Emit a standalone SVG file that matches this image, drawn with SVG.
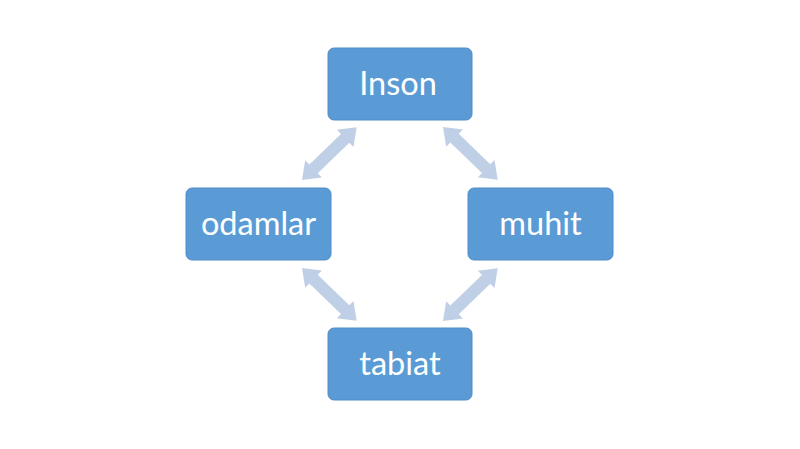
<svg xmlns="http://www.w3.org/2000/svg" xmlns:xlink="http://www.w3.org/1999/xlink" width="800" height="449" viewBox="0 0 800 449">
<style>
.node rect{fill:#5B9BD5;stroke:#4F8CC6;stroke-width:1}
.node text{fill:#FFFFFF;font-family:Lato,"Open Sans",sans-serif;font-size:32.5px;text-anchor:middle}
.arr{fill:#BFCFE5}
</style>
<defs>
<polygon id="dbl" class="arr" points="0,0 16,-12 16,-6 60,-6 60,-12 76,0 60,12 60,6 16,6 16,12"/>
</defs>
<rect width="800" height="449" fill="#FFFFFF"/>
<g id="connectors">
<use xlink:href="#dbl" transform="translate(302,180) rotate(-44)"/>
<use xlink:href="#dbl" transform="translate(443,127) rotate(44)"/>
<use xlink:href="#dbl" transform="translate(302,268) rotate(44)"/>
<use xlink:href="#dbl" transform="translate(443,321) rotate(-44)"/>
</g>
<g id="inson" class="node"><rect x="328" y="48" width="144" height="72" rx="6"/><text x="398" y="95">Inson</text></g>
<g id="odamlar" class="node"><rect x="186" y="188" width="145" height="72" rx="6"/><text x="258.5" y="235">odamlar</text></g>
<g id="muhit" class="node"><rect x="468" y="188" width="145" height="72" rx="6"/><text x="540.5" y="235">muhit</text></g>
<g id="tabiat" class="node"><rect x="328" y="328" width="144" height="72" rx="6"/><text x="400" y="375">tabiat</text></g>
</svg>
